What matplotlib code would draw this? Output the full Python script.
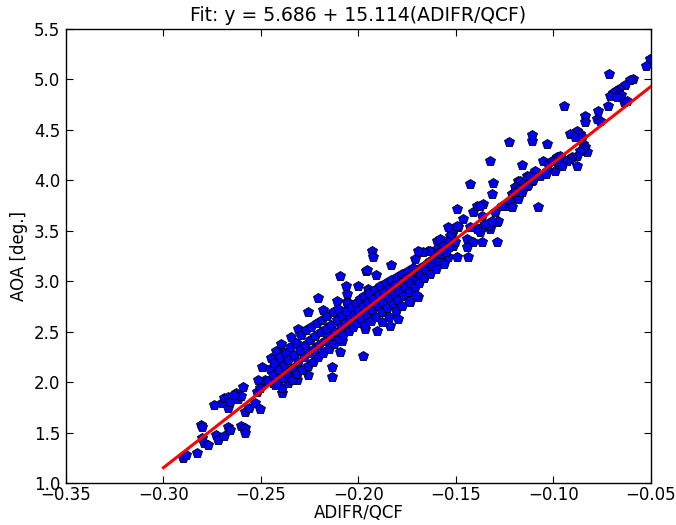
import matplotlib
matplotlib.use("Agg")
import matplotlib.pyplot as plt
import numpy as np

# ---- data ----
# sparse / outlying points
sparse_x = [
    -0.290, -0.2885, -0.283, -0.281, -0.280, -0.280, -0.279, -0.277, -0.273, -0.272,
    -0.269, -0.267, -0.266, -0.260, -0.258, -0.258, -0.274, -0.270, -0.269, -0.267,
    -0.267, -0.266, -0.263, -0.262, -0.260, -0.258, -0.256, -0.253, -0.252, -0.2505,
    -0.2495, -0.2495, -0.2495, -0.248, -0.244, -0.243, -0.242, -0.239, -0.239, -0.236,
    -0.235, -0.259, -0.264, -0.2515, -0.2505, -0.244, -0.239, -0.240, -0.231, -0.226,
    -0.218, -0.221, -0.211, -0.2095, -0.2064, -0.2059, -0.2059, -0.196, -0.191, -0.1797,
    -0.1905, -0.1838, -0.1977, -0.2095, -0.2136, -0.2136, -0.238, -0.242, -0.2315, -0.226,
    -0.1931, -0.1926, -0.1833, -0.1956, -0.2003, -0.1736, -0.1695, -0.1967, -0.2085, -0.1951,
    -0.171, -0.1685, -0.1644, -0.1597, -0.1597, -0.1531, -0.1521, -0.1515, -0.1495, -0.1464,
    -0.1438, -0.1413, -0.1392, -0.1377, -0.1362, -0.1367, -0.1326, -0.129, -0.129, -0.1428,
    -0.131, -0.1315, -0.1208, -0.1259, -0.1187, -0.1182, -0.1146,
    -0.1228, -0.111, -0.1033, -0.1326, -0.1162, -0.1377, -0.1367, -0.130, -0.1285, -0.1336,
    -0.1367, -0.1392, -0.1428, -0.149, -0.1515, -0.1531, -0.1582, -0.1541, -0.1444, -0.1413,
    -0.1444, -0.1238, -0.1223, -0.1213, -0.1197, -0.1172, -0.1136, -0.1213, -0.1182, -0.1162,
    -0.1095, -0.1069, -0.1079, -0.1054, -0.1028, -0.0992, -0.0982, -0.0977, -0.1033, -0.111,
    -0.1136,
    -0.0505, -0.0526, -0.0592, -0.0608, -0.0633, -0.0664, -0.0679, -0.0695, -0.071, -0.0715,
    -0.0721, -0.0638, -0.0623, -0.0772, -0.0777, -0.0762, -0.0946, -0.0838, -0.0838, -0.0879,
    -0.0864, -0.0915, -0.089, -0.0854, -0.0849, -0.0838, -0.0828, -0.0849, -0.0864, -0.0879,
    -0.0905, -0.0915, -0.0931, -0.0951, -0.0967, -0.0977, -0.1008, -0.111, -0.1038, -0.0879,
    -0.0956, -0.1156, -0.1131, -0.1105, -0.1121, -0.1172, -0.1197, -0.1264, -0.1351, -0.1315,
    -0.0654, -0.0674,
    -0.1541, -0.1505, -0.1567, -0.1582, -0.1633, -0.1669, -0.1695, -0.1633, -0.1608, -0.1556,
    -0.1541, -0.1495, -0.1649, -0.1674, -0.1495, -0.1905,
]
sparse_y = [
    1.249, 1.279, 1.299, 1.577, 1.557, 1.448, 1.398, 1.378, 1.478, 1.428,
    1.468, 1.557, 1.527, 1.567, 1.547, 1.498, 1.776, 1.796, 1.846, 1.856,
    1.746, 1.806, 1.896, 1.836, 1.866, 1.706, 1.746, 1.796, 1.905, 1.736,
    2.154, 2.005, 1.975, 2.025, 1.995, 1.975, 2.144, 1.896, 1.945, 1.995,
    2.095, 1.955, 1.876, 2.025, 1.945, 2.025, 2.055, 2.323, 2.522, 2.692,
    2.711, 2.831, 2.801, 3.050, 2.950, 2.871, 2.791, 3.100, 3.060, 2.622,
    2.502, 2.552, 2.254, 2.294, 2.154, 2.055, 2.124, 2.174, 2.025, 2.075,
    3.299, 3.239, 3.159, 3.109, 2.950, 2.791, 2.841, 2.522, 2.403, 2.920,
    3.219, 3.289, 3.299, 3.398, 3.318, 3.517, 3.468, 3.348, 3.716, 3.617,
    3.239, 3.687, 3.746, 3.488, 3.766, 3.388, 3.517, 3.587, 3.388, 3.965,
    3.975, 3.866, 3.836, 3.746, 3.945, 3.995, 3.985,
    4.383, 4.393, 4.363, 4.194, 4.154, 3.746, 3.647, 3.687, 3.597, 3.547,
    3.537, 3.517, 3.537, 3.537, 3.517, 3.448, 3.418, 3.388, 3.418, 3.388,
    3.338, 3.746, 3.796, 3.866, 3.935, 3.995, 3.945, 3.736, 3.816, 3.886,
    4.094, 4.045, 3.736, 4.194, 4.164, 4.094, 4.234, 4.164, 4.094, 3.995,
    4.045,
    5.199, 5.129, 5.000, 4.990, 4.940, 4.910, 4.881, 4.861, 4.831, 5.050,
    4.741, 4.781, 4.791, 4.692, 4.612, 4.592, 4.741, 4.642, 4.582, 4.493,
    4.463, 4.463, 4.433, 4.433, 4.363, 4.333, 4.284, 4.313, 4.294, 4.244,
    4.234, 4.214, 4.194, 4.214, 4.244, 4.184, 4.194, 4.453, 4.065, 4.144,
    4.144, 3.965, 3.955, 4.005, 4.045, 3.915, 3.886, 3.746, 3.567, 3.597,
    4.841, 4.821,
    3.537, 3.388, 3.348, 3.289, 3.299, 3.289, 3.299, 3.199, 3.189, 3.219,
    3.239, 3.239, 3.119, 3.090, 3.547, 2.920,
]

# dense central band
dense_x = [
    -0.2462, -0.2455, -0.2448, -0.2436, -0.2431, -0.2425, -0.2418, -0.2409, -0.2402, -0.2397,
    -0.2388, -0.2381, -0.2374, -0.2367, -0.2359, -0.2352, -0.2346, -0.2340, -0.2334, -0.2329,
    -0.2321, -0.2315, -0.2308, -0.2301, -0.2296, -0.2288, -0.2280, -0.2273, -0.2267, -0.2260,
    -0.2254, -0.2247, -0.2241, -0.2235, -0.2228, -0.2221, -0.2214, -0.2207, -0.2200, -0.2193,
    -0.2188, -0.2181, -0.2174, -0.2168, -0.2160, -0.2153, -0.2146, -0.2140, -0.2133, -0.2126,
    -0.2119, -0.2112, -0.2105, -0.2098, -0.2091, -0.2085, -0.2078, -0.2070, -0.2063, -0.2057,
    -0.2049, -0.2042, -0.2036, -0.2028, -0.2021, -0.2014, -0.2007, -0.2000, -0.1993, -0.1986,
    -0.1979, -0.1972, -0.1965, -0.1958, -0.1951, -0.1944, -0.1937, -0.1930, -0.1923, -0.1916,
    -0.1909, -0.1902, -0.1895, -0.1888, -0.1881, -0.1874, -0.1867, -0.1860, -0.1853, -0.1846,
    -0.1839, -0.1832, -0.1825, -0.1818, -0.1811, -0.1804, -0.1797, -0.1790, -0.1783, -0.1776,
    -0.1769, -0.1762, -0.1755, -0.1748, -0.1741, -0.1734, -0.1727, -0.1720, -0.1712, -0.1705,
    -0.1698, -0.1690, -0.1683, -0.1676,
    -0.1665, -0.1655, -0.1645, -0.1635, -0.1625, -0.1612, -0.1600, -0.1588, -0.1575, -0.1562,
    -0.1550, -0.1538,
    -0.1880, -0.1845, -0.1810, -0.1775, -0.1740, -0.1705,
]
dense_y = [
    2.01, 2.13, 2.24, 2.07, 2.19, 2.31, 1.99, 2.12, 2.25, 2.38,
    2.04, 2.17, 2.29, 2.09, 2.22, 2.35, 2.45, 2.02, 2.14, 2.27,
    2.39, 2.08, 2.20, 2.32, 2.47, 2.12, 2.25, 2.37, 2.52, 2.16,
    2.29, 2.42, 2.55, 2.20, 2.33, 2.46, 2.59, 2.25, 2.37, 2.50,
    2.62, 2.29, 2.41, 2.53, 2.66, 2.33, 2.46, 2.57, 2.69, 2.38,
    2.50, 2.62, 2.72, 2.43, 2.55, 2.66, 2.47, 2.59, 2.70, 2.78,
    2.51, 2.63, 2.74, 2.55, 2.67, 2.78, 2.59, 2.71, 2.82, 2.63,
    2.75, 2.85, 2.57, 2.67, 2.79, 2.88, 2.61, 2.71, 2.82, 2.91,
    2.65, 2.75, 2.86, 2.95, 2.69, 2.79, 2.89, 2.98, 2.73, 2.83,
    2.93, 3.01, 2.77, 2.87, 2.96, 3.04, 2.81, 2.90, 2.99, 3.07,
    2.85, 2.94, 3.03, 3.10, 2.89, 2.98, 3.06, 3.13, 2.94, 3.02,
    3.09, 2.98, 3.06, 3.14,
    3.03, 3.11, 3.18, 3.07, 3.15, 3.22, 3.12, 3.20, 3.27, 3.17,
    3.29, 3.34,
    2.60, 2.65, 2.70, 2.75, 2.80, 2.86,
]

# fit from the title
fit_intercept = 5.686
fit_slope = 15.114
fit_x_range = [-0.30, -0.05]

x_limits = [-0.35, -0.05]
y_limits = [1.0, 5.5]
x_ticks = [-0.35, -0.30, -0.25, -0.20, -0.15, -0.10, -0.05]
y_ticks = [1.0, 1.5, 2.0, 2.5, 3.0, 3.5, 4.0, 4.5, 5.0, 5.5]

# ---- plotting ----
plt.rcParams['font.family'] = ['DejaVu Sans']
plt.rcParams['font.size'] = 12
plt.rcParams['axes.unicode_minus'] = True

fig = plt.figure(figsize=(6.76, 5.25), dpi=100, facecolor='white')
ax = fig.add_axes([0.0976, 0.080, 0.8654, 0.8648])

all_x = np.array(sparse_x + dense_x)
all_y = np.array(sparse_y + dense_y)
ax.plot(all_x, all_y, linestyle='none', marker='p', markersize=7.2,
        markerfacecolor=(0, 0, 1), markeredgecolor='black', markeredgewidth=0.6,
        clip_on=True, zorder=2)

fx = np.array(fit_x_range)
ax.plot(fx, fit_intercept + fit_slope * fx, color=(1, 0, 0), linewidth=2.2, zorder=3)

ax.set_xlim(x_limits)
ax.set_ylim(y_limits)
ax.set_xticks(x_ticks)
ax.set_yticks(y_ticks)
ax.set_xticklabels([("%.2f" % v).replace("-", "\u2212") for v in x_ticks])
ax.set_yticklabels(["%.1f" % v for v in y_ticks])
ax.tick_params(direction='in', top=True, right=True, length=5, width=0.8,
               labelsize=12)
ax.tick_params(axis='x', pad=2)
ax.tick_params(axis='y', pad=4)
for s in ax.spines.values():
    s.set_linewidth(1.0)

ax.set_xlabel("ADIFR/QCF", fontsize=12, labelpad=0)
ax.set_ylabel("AOA [deg.]", fontsize=12, labelpad=4)
ax.set_title("Fit: y = 5.686 + 15.114(ADIFR/QCF)", fontsize=13.5, pad=6)

fig.savefig("out.png", dpi=100, facecolor='white')
